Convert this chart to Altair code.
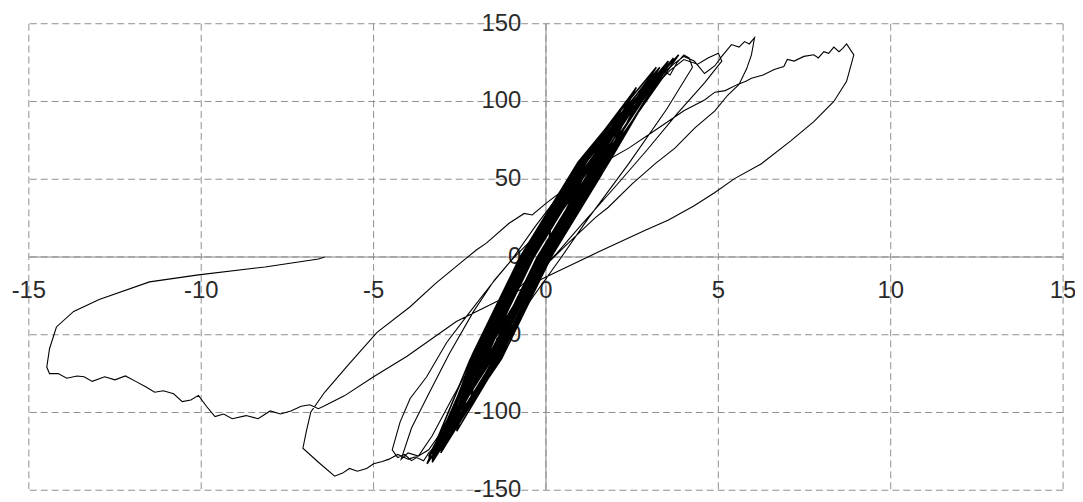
import altair as alt
import pandas as pd

# ---- elastic cycles (dense band): per cycle L+, P+, U+, Z1, L-, N-, U-, Z2 ----
band_disp = [0.0,
    0.15, 0.80, 0.35, -0.2, -0.66, -1.22, -0.96, -0.5,
    0.19, 1.05, 0.54, -0.15, -0.72, -1.47, -1.17, -0.6,
    0.23, 1.23, 0.58, -0.25, -0.93, -1.79, -1.13, -0.45,
    0.49, 1.62, 0.89, -0.05, -0.82, -1.79, -1.47, -0.7,
    0.33, 1.66, 0.93, -0.1, -0.96, -2.12, -1.41, -0.55,
    0.58, 2.0, 1.18, 0.05, -0.89, -2.12, -1.29, -0.35,
    0.86, 2.25, 1.21, 0.0, -1.01, -2.2, -1.66, -0.65,
    0.64, 2.16, 1.09, -0.2, -1.28, -2.58, -1.58, -0.5,
    0.86, 2.52, 1.46, 0.1, -1.04, -2.49, -1.89, -0.75,
    0.67, 2.43, 1.37, -0.05, -1.24, -2.78, -1.59, -0.4,
    1.06, 2.79, 1.61, 0.15, -1.08, -2.59, -1.83, -0.6,
    0.9, 2.62, 1.35, -0.15, -1.42, -2.91, -1.97, -0.7,
    0.84, 3.0, 1.59, 0.05, -1.25, -2.92, -1.75, -0.45,
    1.13, 3.05, 1.33, -0.25, -1.57, -2.99, -1.87, -0.55,
    1.06, 3.2, 1.61, 0.0, -1.34, -2.96, -1.99, -0.65,
    0.99, 3.35, 1.54, -0.1, -1.46, -3.25, -1.71, -0.35,
    1.3, 3.4, 1.75, 0.1, -1.29, -3.05, -2.14, -0.75,
    0.93, 3.2, 1.48, -0.2, -1.61, -3.4, -1.91, -0.5,
    1.2, 3.5, 1.66, -0.05, -1.48, -3.3, -2.03, -0.6,
    1.13, 3.55, 1.88, 0.15, -1.29, -3.3, -1.84, -0.4,
    1.36, 3.7, 1.81, 0.05, -1.4, -3.3, -2.15, -0.7,
    0.98, 3.3, 1.53, -0.15, -1.57, -3.4, -1.97, -0.55,
    1.07, 3.1, 1.37, -0.25, -1.65, -3.3, -2.05, -0.65,
    1.14, 3.85, 1.79, 0.0, -1.46, -3.45, -2.21, -0.75]
band_force = [0,
    20, 40, 20, 0, -21, -42, -21, 0,
    25, 50, 25, 0, -26, -52, -26, 0,
    30, 60, 30, 0, -31, -62, -31, 0,
    34, 68, 34, 0, -35, -70, -35, 0,
    37.5, 75, 37.5, 0, -39, -78, -39, 0,
    41, 82, 41, 0, -42.5, -85, -42.5, 0,
    44, 88, 44, 0, -46, -92, -46, 0,
    47, 94, 47, 0, -49, -98, -49, 0,
    49.5, 99, 49.5, 0, -52, -104, -52, 0,
    51.5, 103, 51.5, 0, -54, -108, -54, 0,
    53, 106, 53, 0, -56, -112, -56, 0,
    54.5, 109, 54.5, 0, -57.5, -115, -57.5, 0,
    56, 112, 56, 0, -59, -118, -59, 0,
    57.5, 115, 57.5, 0, -60, -120, -60, 0,
    58.5, 117, 58.5, 0, -61, -122, -61, 0,
    59.5, 119, 59.5, 0, -62, -124, -62, 0,
    60, 120, 60, 0, -63, -126, -63, 0,
    61, 122, 61, 0, -64, -128, -64, 0,
    62, 124, 62, 0, -65, -130, -65, 0,
    63, 126, 63, 0, -65.5, -131, -65.5, 0,
    64, 128, 64, 0, -66, -132, -66, 0,
    61, 122, 61, 0, -64.5, -129, -64.5, 0,
    59, 118, 59, 0, -63.5, -127, -63.5, 0,
    65, 130, 65, 0, -66.5, -133, -66.5, 0]

# ---- cycle to +4 / -4.5 (starts where the band ends) ----
cycle4_disp = [-0.75, 1.2, 2.6, 3.1, 3.45, 3.6, 3.8, 4.0, 4.15, 4.25, 3.5, 2.4, 1.2, 0.45,
               -1.55, -2.9, -3.4, -3.55, -3.75, -3.9, -4.1, -4.3, -4.46,
               -4.23, -3.94, -3.46, -2.88, -2.3, -1.6, -1.0]
cycle4_force = [0, 62, 100, 112, 119, 117, 125, 130, 128, 122, 95, 60, 24, 0,
                -62, -115, -126, -131, -129, -131, -127, -129, -124,
                -106, -91, -77, -55, -38, -18, -2]

# ---- cycle to +5 / -4.2 ----
cycle5_disp = [0.2, 1.4, 2.7, 3.6, 4.0, 4.4, 4.7, 5.0, 5.1,
               4.6, 3.8, 2.9, 2.0, 1.0, 0.3,
               -0.8, -1.8, -2.7, -3.3, -3.7, -4.0, -4.2,
               -3.9, -3.4, -2.8, -2.1, -1.5, -1.0]
cycle5_force = [25, 65, 100, 120, 127, 124, 128, 131, 126,
                112, 92, 68, 45, 20, 2,
                -20, -55, -90, -115, -128, -126, -130,
                -110, -88, -62, -35, -15, -2]

# ---- cycle to +6 / -7 ----
cycle6_disp = [-0.3, 0.6, 1.5, 2.6, 3.3, 3.7, 4.0, 4.3, 4.6, 4.9, 5.1, 5.38, 5.6, 5.76, 5.9, 6.05,
               5.96, 5.82, 5.6, 5.27, 4.9, 4.32, 3.74, 3.17, 2.5, 1.81, 1.44, 0.6, 0.1,
               -0.8, -1.8, -2.8, -3.4, -3.7, -4.0, -4.3, -4.55, -4.75, -5.0, -5.2, -5.47,
               -5.7, -5.9, -6.13, -6.6, -7.05, -6.95, -6.82, -6.42, -5.76, -4.9, -3.94,
               -3.2, -2.3, -2.02, -1.73, -1.07, -0.63, -0.4, 0.0, 0.86]
cycle6_force = [20, 46, 70, 100, 116, 124, 129, 126, 118, 123, 129, 136.6, 135, 138.5, 137, 141,
                130, 121, 111, 104, 94, 83, 70, 60, 47, 32, 25.5, 8, -3,
                -30, -68, -105, -124, -128, -130, -127, -130, -131.5, -133, -136, -137.8,
                -136, -139, -141, -132, -123, -112, -99.6, -87, -70, -48.5, -32,
                -17, -0.6, 4.5, 8.9, 21.7, 28, 27, 34.5, 49]

# ---- cycle to +9 / -14.5 ----
cycle9_disp = [1.6, 2.4, 3.2, 4.0, 4.6, 4.9, 5.2, 5.56, 5.8, 5.96, 6.3, 6.62, 6.9, 7.0, 7.2,
               7.48, 7.77, 7.9, 8.06, 8.2, 8.35, 8.5, 8.6, 8.72, 8.93,
               8.72, 8.35, 7.77, 7.1, 6.25, 5.47, 4.9, 4.3, 3.54, 2.88, 1.5, 0.0,
               -1.5, -2.6, -4.03, -5.0, -5.85, -6.42, -6.6, -6.85, -7.1, -7.4, -7.7,
               -8.0, -8.35, -8.7, -9.1, -9.35, -9.6, -9.85, -10.08, -10.3, -10.55,
               -10.8, -11.1, -11.35, -11.6, -11.9, -12.2, -12.5, -12.8, -13.16, -13.4,
               -13.6, -13.9, -14.15, -14.4, -14.48,
               -14.4, -14.2, -13.7, -12.96, -11.5, -10.08, -8.15, -6.6, -6.42]
cycle9_force = [60, 70, 82, 94, 101, 106, 107, 111, 113, 115, 117, 120.6, 122.5, 127, 126,
                129, 130, 128, 132, 131, 135, 132, 134, 137, 130,
                113, 100, 87, 74.7, 60, 50.4, 41.5, 33, 23.6, 17.2, 3, -12.8,
                -29.4, -41.5, -63.8, -77, -89.3, -95.7, -97.6, -95, -96, -99, -101,
                -99, -104, -102, -104, -101, -102.6, -96, -89, -92, -93,
                -88, -86, -87, -83.6, -80, -76.5, -79, -77, -80, -77,
                -76.5, -78, -75, -75, -70.8,
                -59, -45, -35, -27.4, -16, -11.5, -6.4, -1.3, 0]

x_ticks = [-15, -10, -5, 0, 5, 10, 15]
y_ticks = [150, 100, 50, 0, -50, -100, -150]

assert len(band_disp) == len(band_force)
outer_disp = cycle4_disp + cycle5_disp + cycle6_disp + cycle9_disp
outer_force = cycle4_force + cycle5_force + cycle6_force + cycle9_force
assert len(outer_disp) == len(outer_force), (len(outer_disp), len(outer_force))

band = pd.DataFrame({"disp": band_disp, "force": band_force, "step": list(range(len(band_disp)))})
outer = pd.DataFrame({"disp": outer_disp, "force": outer_force, "step": list(range(len(outer_disp)))})
xlab = pd.DataFrame({"v": x_ticks, "zero": [0] * len(x_ticks), "label": [str(t) for t in x_ticks]})
ylab = pd.DataFrame({"v": y_ticks, "zero": [0] * len(y_ticks), "label": [str(t) for t in y_ticks]})
xgrid = pd.DataFrame({"v": x_ticks})
ygrid = pd.DataFrame({"v": y_ticks})
zero_df = pd.DataFrame({"v": [0]})

xs = alt.Scale(domain=[-15, 15], nice=False, zero=False)
ys = alt.Scale(domain=[-150, 150], nice=False, zero=False)

FONT = "Liberation Sans, Arial, sans-serif"
GRID = "#8f8f8f"
AX = "#8a8a8a"
TXT = "#2a2a2a"

vgrid = alt.Chart(xgrid).mark_rule(color=GRID, strokeWidth=1, strokeDash=[7, 4]).encode(
    x=alt.X("v:Q", scale=xs, axis=None))
hgrid = alt.Chart(ygrid).mark_rule(color=GRID, strokeWidth=1, strokeDash=[7, 4]).encode(
    y=alt.Y("v:Q", scale=ys, axis=None))

hline = alt.Chart(zero_df).mark_rule(color=AX, strokeWidth=1).encode(
    y=alt.Y("v:Q", scale=ys, axis=None))
vline = alt.Chart(zero_df).mark_rule(color=AX, strokeWidth=1).encode(
    x=alt.X("v:Q", scale=xs, axis=None))

xtext = alt.Chart(xlab).mark_text(dy=34, align="center", baseline="middle", fontSize=24,
                                  font=FONT, color=TXT).encode(
    x=alt.X("v:Q", scale=xs, axis=None), y=alt.Y("zero:Q", scale=ys, axis=None), text="label:N")
ytext = alt.Chart(ylab).mark_text(dx=-25, align="right", baseline="middle", fontSize=24,
                                  font=FONT, color=TXT).encode(
    x=alt.X("zero:Q", scale=xs, axis=None), y=alt.Y("v:Q", scale=ys, axis=None), text="label:N")

band_line = alt.Chart(band).mark_line(color="black", strokeWidth=1.6, interpolate="linear").encode(
    x=alt.X("disp:Q", scale=xs, axis=None),
    y=alt.Y("force:Q", scale=ys, axis=None),
    order="step:Q",
)
outer_line = alt.Chart(outer).mark_line(color="black", strokeWidth=1.1, interpolate="linear").encode(
    x=alt.X("disp:Q", scale=xs, axis=None),
    y=alt.Y("force:Q", scale=ys, axis=None),
    order="step:Q",
)

chart = alt.layer(vgrid, hgrid, hline, vline, xtext, ytext, band_line, outer_line).properties(
    width=1042, height=470,
    autosize=alt.AutoSizeParams(type="none"),
    padding={"left": 21, "top": 14, "right": 12, "bottom": 10},
    background="white",
).configure_view(strokeWidth=0)

chart.save("out.html", embed_options={"renderer": "svg", "actions": False})
